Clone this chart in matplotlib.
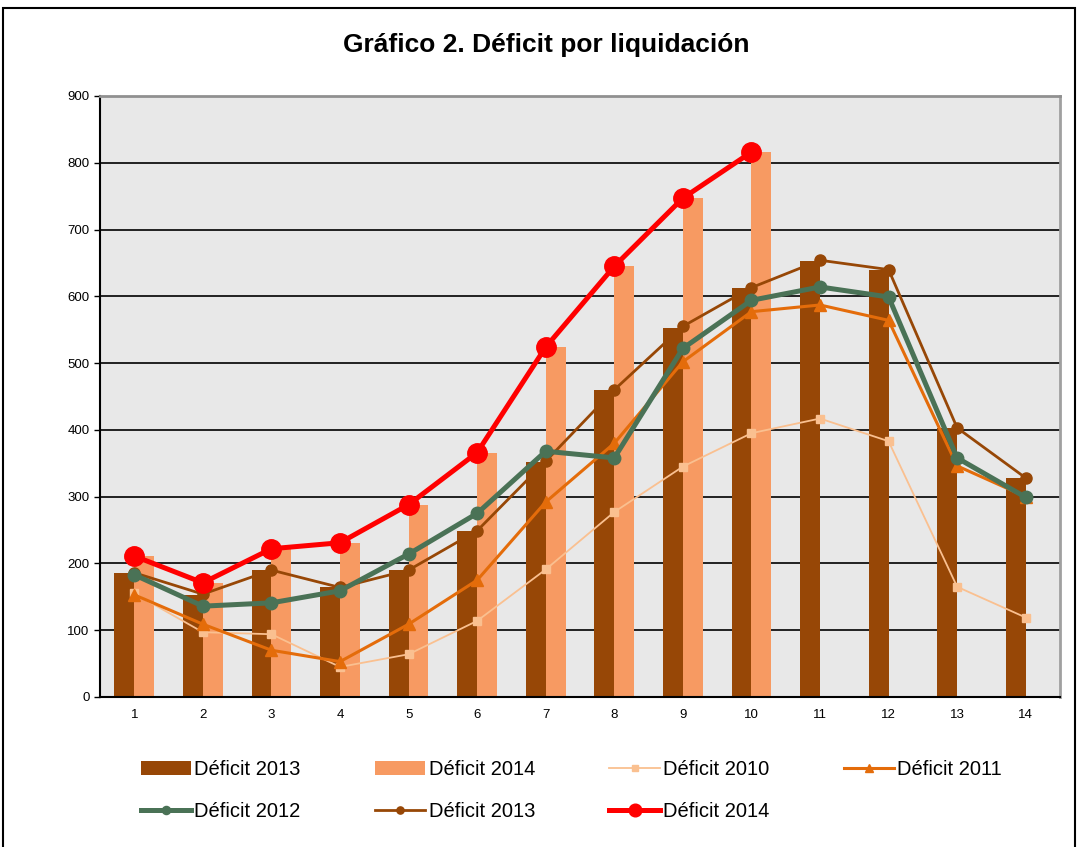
#!/usr/bin/env python3
"""Gráfico 2. Déficit por liquidación: bars 2013/2014 plus yearly lines."""

import matplotlib
matplotlib.use("Agg")
import matplotlib.pyplot as plt
from matplotlib.patches import Rectangle
import numpy as np

LIQUIDACION = list(range(1, 15))

BAR_2013 = [185, 152, 190, 164, 190, 249, 352, 459, 553, 612, 653, 639, 403, 328]
BAR_2014 = [211, 171, 222, 231, 288, 366, 524, 645, 747, 816]

DEF_2010 = [155, 97, 94, 45, 64, 114, 191, 277, 345, 395, 417, 383, 165, 119]
DEF_2011 = [153, 109, 70, 53, 109, 175, 292, 380, 502, 577, 587, 564, 346, 300]
DEF_2012 = [183, 136, 141, 159, 214, 275, 368, 358, 522, 594, 614, 599, 358, 299]
DEF_2013 = [186, 154, 190, 164, 190, 249, 353, 460, 555, 613, 654, 640, 403, 328]
DEF_2014 = [211, 171, 222, 231, 288, 366, 524, 645, 747, 816]

COL_BAR13 = "#974706"
COL_BAR14 = "#F79A62"
COL_2010 = "#FAC090"
COL_2011 = "#E46C0A"
COL_2012 = "#4A7256"
COL_2013 = "#974706"
COL_2014 = "#FF0000"

plt.rcParams["font.family"] = ["Liberation Sans", "DejaVu Sans"]

fig = plt.figure(figsize=(10.78, 8.47), dpi=100)
ax = fig.add_axes([0.0928, 0.1771, 0.8905, 0.7096])
ax.set_facecolor("#E8E8E8")

x = np.array(LIQUIDACION, dtype=float)
w = 0.29
b13 = ax.bar(x - w / 2, BAR_2013, width=w, color=COL_BAR13, label="Déficit 2013", zorder=2)
x14 = x[:len(BAR_2014)]
b14 = ax.bar(x14 + w / 2, BAR_2014, width=w, color=COL_BAR14, label="Déficit 2014", zorder=2)

l10, = ax.plot(x, DEF_2010, color=COL_2010, lw=1.3, marker="s", ms=6, label="Déficit 2010", zorder=3)
l11, = ax.plot(x, DEF_2011, color=COL_2011, lw=2.2, marker="^", ms=8, label="Déficit 2011", zorder=4)
l13, = ax.plot(x, DEF_2013, color=COL_2013, lw=2.0, marker="o", ms=8, label="Déficit 2013", zorder=5)
l12, = ax.plot(x, DEF_2012, color=COL_2012, lw=3.6, marker="o", ms=9, label="Déficit 2012", zorder=6)
l14, = ax.plot(x[:len(DEF_2014)], DEF_2014, color=COL_2014, lw=3.6, marker="o", ms=14,
               label="Déficit 2014", zorder=7)

ax.set_xlim(0.5, 14.5)
ax.set_ylim(0, 900)
ax.set_xticks(x)
ax.set_xticklabels([str(v) for v in LIQUIDACION])
ax.set_yticks(np.arange(0, 901, 100))
ax.tick_params(axis="both", labelsize=9.5, length=4, width=1, direction="out")
ax.tick_params(axis="x", length=0, pad=9)
ax.yaxis.grid(True, color="black", lw=1.2, zorder=1)
ax.set_axisbelow(True)
ax.spines["left"].set_linewidth(1.5)
ax.spines["bottom"].set_linewidth(1.5)
ax.spines["top"].set_color("#909090")
ax.spines["right"].set_color("#A0A0A0")
ax.spines["top"].set_linewidth(2)
ax.spines["right"].set_linewidth(2)

fig.text(0.507, 0.947, "Gráfico 2. Déficit por liquidación", ha="center", va="center",
         fontsize=19, fontweight="bold")

handles = [b13, l12, b14, l13, l10, l14, l11]
labels = [h.get_label() for h in handles]
fig.legend(handles, labels, loc="center", ncol=4, bbox_to_anchor=(0.530, 0.067),
           frameon=False, fontsize=14.5, handlelength=2.5, handletextpad=0.15,
           columnspacing=3.7, labelspacing=1.15, markerscale=0.65)

fig.patches.append(Rectangle((0.003, -0.01), 0.994, 1.0, transform=fig.transFigure,
                             fill=False, edgecolor="black", lw=1.5))

fig.savefig("out.png", dpi=100)
